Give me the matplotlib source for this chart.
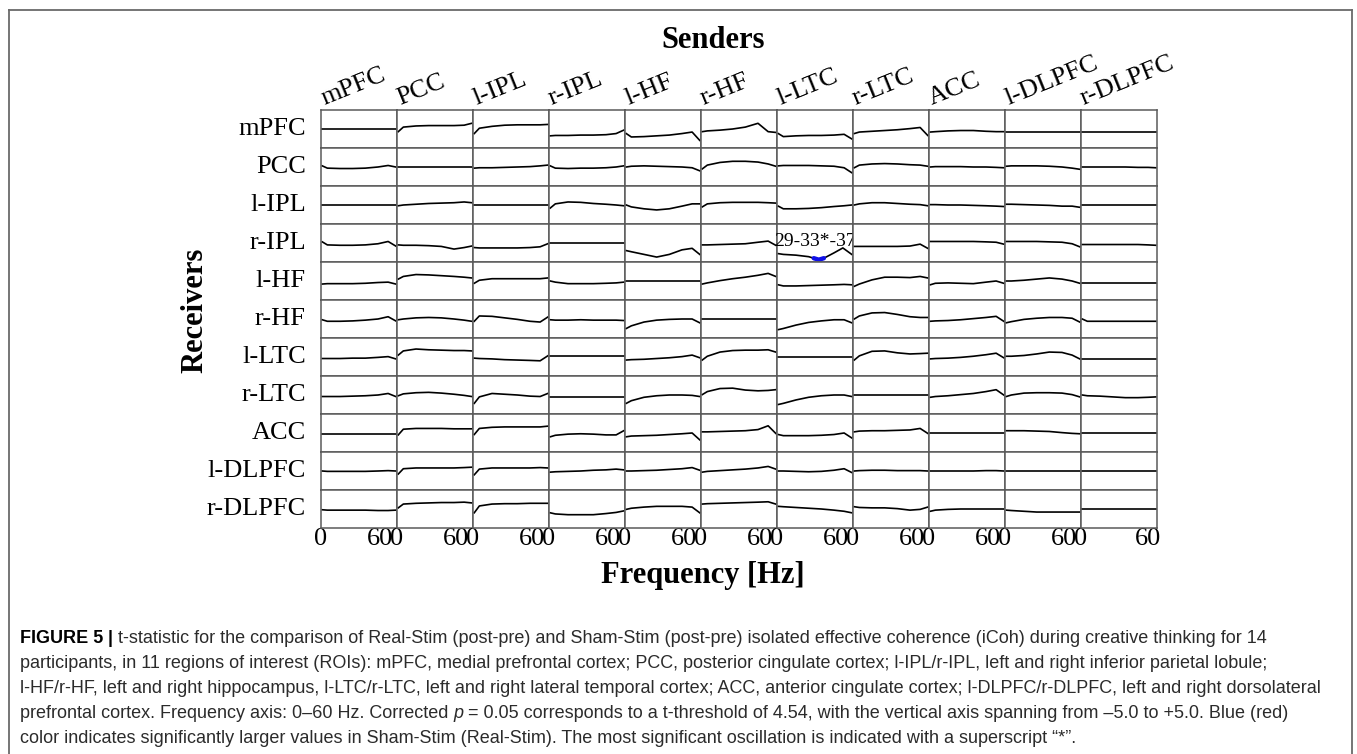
import matplotlib
matplotlib.use("Agg")
import matplotlib.pyplot as plt
from matplotlib.lines import Line2D
from matplotlib.transforms import ScaledTranslation

# figure size in pixels (dpi 100)
W, H = 1357, 754

regions = ["mPFC", "PCC", "l-IPL", "r-IPL", "l-HF", "r-HF",
           "l-LTC", "r-LTC", "ACC", "l-DLPFC", "r-DLPFC"]
freqs = [1, 5, 15, 25, 35, 45, 53, 59]
flat = [0, 0, 0, 0, 0, 0, 0, 0]

# t-values: one list per receiver, one curve per sender
t_mpfc = [
    flat,
    [-0.7, 0.5, 0.8, 0.9, 0.9, 0.9, 1.0, 1.5],
    [-1.2, 0.2, 0.7, 1.0, 1.1, 1.1, 1.1, 1.2],
    [-1.8, -1.7, -1.7, -1.6, -1.6, -1.5, -1.2, -0.3],
    [-1.2, -2.1, -2.0, -1.8, -1.6, -1.2, -0.8, -3.0],
    [-0.7, -0.5, -0.3, 0.0, 0.5, 1.5, -0.7, -0.9],
    [-1.2, -2.0, -1.8, -1.7, -1.7, -1.6, -1.4, -2.6],
    [-1.2, -0.8, -0.6, -0.4, -0.2, 0.1, 0.4, -1.7],
    [-0.8, -0.7, -0.5, -0.4, -0.4, -0.6, -0.7, -0.7],
    [-0.8, -0.8, -0.8, -0.8, -0.8, -0.8, -0.8, -0.8],
    [-0.8, -0.8, -0.8, -0.8, -0.8, -0.8, -0.8, -0.8],
]
t_pcc = [
    [0.3, -0.3, -0.4, -0.4, -0.3, 0.0, 0.4, 0.0],
    flat,
    [-0.3, -0.2, -0.2, -0.1, 0.0, 0.1, 0.3, 0.5],
    [0.3, -0.3, -0.4, -0.3, -0.3, -0.2, 0.0, 0.3],
    [0.0, 0.2, 0.3, 0.2, 0.1, 0.0, -0.2, -1.0],
    [-0.5, 0.5, 1.2, 1.5, 1.5, 1.3, 0.8, 0.2],
    [0.3, 0.4, 0.4, 0.4, 0.3, 0.2, -0.2, -1.5],
    [-0.2, 0.5, 0.8, 0.9, 0.8, 0.6, 0.5, 0.2],
    [0.0, 0.1, 0.1, 0.1, 0.0, 0.0, -0.1, -0.2],
    [0.2, 0.3, 0.3, 0.3, 0.2, 0.0, -0.3, -0.6],
    [0.0, 0.0, 0.0, 0.0, 0.0, -0.1, -0.1, -0.2],
]
t_lipl = [
    flat,
    [-0.2, 0.0, 0.2, 0.4, 0.5, 0.6, 0.8, 0.6],
    flat,
    [-0.8, 0.3, 0.8, 0.7, 0.4, 0.2, 0.0, -0.2],
    [0.0, -0.5, -1.0, -1.3, -1.0, -0.3, 0.3, 0.3],
    [-0.5, 0.3, 0.6, 0.7, 0.7, 0.7, 0.6, 0.5],
    [-0.3, -1.0, -1.0, -0.9, -0.7, -0.4, -0.2, 0.0],
    [0.0, 0.3, 0.6, 0.6, 0.4, 0.2, 0.1, -0.2],
    [0.1, 0.1, 0.0, 0.0, -0.1, -0.2, -0.3, -0.4],
    [0.2, 0.2, 0.1, 0.0, -0.1, -0.3, -0.3, -0.6],
    flat,
]
t_ripl = [
    [0.3, -0.5, -0.6, -0.6, -0.5, -0.2, 0.4, -0.8],
    [-0.5, -0.6, -0.6, -0.7, -0.9, -1.6, -1.2, -0.8],
    [-1.2, -1.3, -1.3, -1.3, -1.3, -1.2, -1.0, -0.2],
    flat,
    [-2.0, -2.3, -3.0, -3.7, -3.0, -1.8, -1.4, -3.0],
    [-0.5, -0.5, -0.4, -0.3, -0.2, 0.2, 0.5, -0.6],
    None,  # significant cell, see sig_* below
    [-0.9, -0.9, -0.9, -0.9, -0.9, -0.8, -0.3, -1.4],
    [0.4, 0.4, 0.4, 0.4, 0.4, 0.3, 0.2, -0.3],
    [0.4, 0.4, 0.4, 0.4, 0.3, 0.2, -0.2, -1.0],
    [-0.4, -0.4, -0.4, -0.4, -0.4, -0.4, -0.5, -0.6],
]
t_lhf = [
    [-0.8, -0.7, -0.7, -0.7, -0.6, -0.4, -0.3, -0.8],
    [0.5, 1.2, 1.7, 1.6, 1.4, 1.2, 1.0, 0.8],
    [-0.6, 0.2, 0.6, 0.6, 0.6, 0.6, 0.6, 0.8],
    [0.0, -0.3, -0.7, -0.7, -0.7, -0.6, -0.5, -0.3],
    flat,
    [-0.8, -0.5, 0.1, 0.6, 1.0, 1.5, 2.0, 1.2],
    [-1.0, -1.3, -1.3, -1.2, -1.1, -1.0, -0.9, -1.0],
    [-1.4, -0.8, 0.3, 1.0, 1.0, 0.9, 1.2, 0.8],
    [-1.0, -0.6, -0.5, -0.6, -0.7, -0.3, 0.0, -0.6],
    [0.0, 0.0, 0.2, 0.5, 0.8, 0.5, 0.0, -0.6],
    [-0.5, -0.5, -0.5, -0.5, -0.5, -0.5, -0.5, -0.5],
]
t_rhf = [
    [-0.2, -0.6, -0.6, -0.5, -0.3, 0.0, 0.6, -0.5],
    [-0.2, 0.0, 0.3, 0.4, 0.3, 0.0, -0.3, -0.6],
    [-0.6, 0.8, 0.7, 0.3, -0.1, -0.6, -0.8, 0.5],
    [-0.2, -0.3, -0.3, -0.2, -0.3, -0.3, -0.3, -0.4],
    [-2.5, -1.8, -0.8, -0.3, -0.1, 0.0, 0.0, -1.0],
    flat,
    [-2.8, -2.5, -1.6, -0.9, -0.5, -0.2, -0.2, -1.0],
    [0.0, 0.8, 1.6, 1.7, 1.2, 0.6, 0.4, 0.4],
    [-0.6, -0.5, -0.4, -0.2, 0.1, 0.4, 0.7, -0.6],
    [-1.0, -0.7, -0.1, 0.2, 0.4, 0.4, 0.2, -0.8],
    [0.0, -0.6, -0.6, -0.6, -0.6, -0.6, -0.6, -0.6],
]
t_lltc = [
    [-0.4, -0.4, -0.4, -0.3, -0.3, -0.1, 0.1, -0.5],
    [0.5, 1.6, 2.1, 1.9, 1.8, 1.7, 1.7, 1.6],
    [-0.3, -0.4, -0.5, -0.7, -0.8, -0.9, -1.0, 0.3],
    [0.3, 0.3, 0.3, 0.3, 0.3, 0.3, 0.3, 0.3],
    [-0.8, -0.7, -0.6, -0.4, -0.2, 0.1, 0.5, -0.2],
    [-0.8, 0.2, 1.3, 1.7, 1.8, 1.8, 1.9, 1.3],
    flat,
    [-0.8, 0.3, 1.5, 1.6, 1.1, 0.8, 0.9, 1.0],
    [-0.5, -0.4, -0.3, -0.1, 0.2, 0.6, 1.0, -0.2],
    [0.2, 0.2, 0.4, 0.8, 1.3, 1.2, 0.5, -0.5],
    [-0.5, -0.5, -0.5, -0.5, -0.5, -0.5, -0.5, -0.5],
]
t_rltc = [
    [-0.4, -0.4, -0.4, -0.3, -0.2, 0.0, 0.4, -0.4],
    [-0.2, 0.3, 0.6, 0.7, 0.5, 0.2, -0.1, -0.4],
    [-2.2, -0.5, 0.4, 0.2, 0.0, -0.3, -0.4, 0.4],
    [-0.6, -0.6, -0.6, -0.6, -0.6, -0.6, -0.6, -0.6],
    [-2.2, -1.5, -0.6, -0.2, 0.0, 0.0, -0.1, -0.4],
    [0.1, 0.9, 1.7, 1.8, 1.3, 1.1, 1.2, 1.4],
    [-2.5, -2.2, -1.3, -0.6, -0.2, 0.0, 0.0, -0.4],
    flat,
    [-0.6, -0.4, -0.2, 0.1, 0.4, 0.9, 1.4, 0.0],
    [-0.4, 0.0, 0.5, 0.6, 0.6, 0.5, 0.1, -0.5],
    [0.0, -0.2, -0.3, -0.5, -0.7, -0.7, -0.6, -0.5],
]
t_acc = [
    [-0.3, -0.3, -0.3, -0.3, -0.3, -0.3, -0.3, -0.3],
    [-0.5, 1.0, 1.2, 1.2, 1.2, 1.1, 1.1, 1.1],
    [-0.4, 1.2, 1.5, 1.6, 1.6, 1.6, 1.6, 1.8],
    [-1.0, -0.6, -0.3, -0.2, -0.3, -0.5, -0.5, 0.6],
    [-1.0, -0.8, -0.7, -0.6, -0.4, -0.2, 0.0, -1.8],
    [0.3, 0.3, 0.4, 0.5, 0.6, 0.9, 1.9, -0.1],
    [-0.4, -0.7, -0.7, -0.7, -0.6, -0.4, 0.0, -1.3],
    [0.3, 0.5, 0.6, 0.6, 0.7, 0.8, 1.2, -0.1],
    flat,
    [0.6, 0.6, 0.6, 0.5, 0.4, 0.1, -0.1, -0.2],
    [-0.1, -0.1, -0.1, -0.1, -0.1, -0.1, -0.1, -0.1],
]
t_ldlpfc = [
    [0.0, -0.1, -0.1, -0.1, -0.1, 0.0, 0.1, 0.0],
    [-0.8, 0.6, 0.8, 0.8, 0.8, 0.8, 0.9, 1.0],
    [-1.0, 0.5, 0.8, 0.8, 0.8, 0.8, 0.9, 0.8],
    [-0.3, -0.2, -0.1, 0.0, 0.2, 0.3, 0.5, 0.3],
    [0.0, 0.0, 0.1, 0.2, 0.4, 0.6, 0.9, 0.2],
    [-0.3, -0.1, 0.1, 0.3, 0.5, 0.8, 1.2, 0.5],
    [0.0, 0.0, -0.1, -0.2, -0.1, 0.2, 0.6, -0.4],
    [0.0, 0.1, 0.2, 0.2, 0.1, 0.1, 0.1, 0.0],
    [0.0, 0.0, 0.0, 0.0, 0.0, 0.1, 0.1, 0.0],
    flat,
    flat,
]
t_rdlpfc = [
    [-0.2, -0.3, -0.3, -0.3, -0.3, -0.4, -0.4, -0.3],
    [0.3, 1.3, 1.5, 1.6, 1.7, 1.7, 1.8, 1.6],
    [-1.0, 0.8, 1.3, 1.4, 1.4, 1.5, 1.5, 1.5],
    [-1.0, -1.3, -1.5, -1.5, -1.5, -1.2, -0.9, -0.5],
    [-0.1, 0.2, 0.5, 0.7, 0.7, 0.7, 0.5, -1.0],
    [1.3, 1.4, 1.5, 1.6, 1.7, 1.8, 1.9, 1.3],
    [0.7, 0.6, 0.4, 0.2, 0.0, -0.3, -0.6, -1.0],
    [0.6, 0.4, 0.3, 0.3, 0.1, -0.3, -0.1, 0.5],
    [-0.6, -0.3, -0.1, 0.0, 0.0, 0.0, 0.0, 0.0],
    [-0.3, -0.4, -0.6, -0.8, -0.8, -0.8, -0.8, -0.8],
    flat,
]

# the single significant connection (l-LTC -> r-IPL)
sig_freqs = [1, 5, 15, 25, 29, 33, 37, 45, 52, 59]
sig_t = [-2.8, -3.0, -3.2, -3.6, -4.0, -4.4, -4.0, -2.6, -1.3, -3.0]
sig_band = [29, 37]
sig_label = "29-33*-37"

rows = [t_mpfc, t_pcc, t_lipl, t_ripl, t_lhf, t_rhf,
        t_lltc, t_rltc, t_acc, t_ldlpfc, t_rdlpfc]

# fonts
serif = "Liberation Serif"
cap_font, cap_size = "Liberation Sans", 13
cap_color = "#2b2b2b"

# grid geometry in pixels
gx0, gy0 = 321, 110
cw, ch = 76, 38
grid_col = "#5a5a5a"


def fx(x):
    return x / W


def fy(y):
    return 1 - y / H


fig = plt.figure(figsize=(W / 100, H / 100), dpi=100)

for r, row in enumerate(rows):
    for c, vals in enumerate(row):
        left = gx0 + c * cw
        top = gy0 + r * ch
        ax = fig.add_axes([fx(left), fy(top + ch), cw / W, ch / H])
        ax.set_xlim(0, 60)
        ax.set_ylim(-5, 5)
        if vals is None:
            ax.plot(sig_freqs, sig_t, color="black", lw=1.2)
            bf = [f for f in sig_freqs if sig_band[0] <= f <= sig_band[1]]
            bt = [t for f, t in zip(sig_freqs, sig_t) if sig_band[0] <= f <= sig_band[1]]
            ax.plot(bf, bt, color="#1010e8", lw=3.2, solid_capstyle="round")
            ax.text(30, 0.5, sig_label, ha="center", va="center",
                    fontsize=14, family=serif, color="black")
        else:
            ax.plot(freqs, vals, color="black", lw=1.2)
        for s in ax.spines.values():
            s.set_color(grid_col)
            s.set_linewidth(1.1)
        ax.set_yticks([])
        if r == len(rows) - 1:
            ax.set_xticks([0, 60])
            ax.set_xticklabels(["0", "60"], fontsize=19, family=serif)
            ax.tick_params(axis="x", length=0, pad=0)
            lab60 = ax.xaxis.get_major_ticks()[1].label1
            shift = -9 if c == len(row) - 1 else -17
            lab60.set_transform(lab60.get_transform() +
                                ScaledTranslation(shift / 100, 0, fig.dpi_scale_trans))
        else:
            ax.set_xticks([])

# sender names (columns) and receiver names (rows)
for c, name in enumerate(regions):
    fig.text(fx(gx0 + c * cw + 3), fy(105), name, rotation=22,
             rotation_mode="anchor", ha="left", va="baseline",
             fontsize=19, family=serif)
for r, name in enumerate(regions):
    fig.text(fx(306), fy(gy0 + r * ch + ch / 2), name, ha="right",
             va="center", fontsize=19, family=serif)

fig.text(fx(713), fy(40), "Senders", ha="center", va="center",
         fontsize=22, weight="bold", family=serif)
fig.text(fx(195), fy(310), "Receivers", ha="center", va="center",
         rotation=90, fontsize=22, weight="bold", family=serif)
fig.text(fx(703), fy(575), "Frequency [Hz]", ha="center", va="center",
         fontsize=22, weight="bold", family=serif)

# outer frame (open at the bottom)
for xs, ys in [((9, 9), (10, H)), ((9, 1352), (10, 10)), ((1352, 1352), (10, H))]:
    fig.add_artist(Line2D([fx(xs[0]), fx(xs[1])], [fy(ys[0]), fy(ys[1])],
                          color="#6a6a6a", lw=1.3, transform=fig.transFigure))

# caption, written piece by piece so bold / italic parts follow each other
caption = [
    [("FIGURE 5", "bold"), (" | ", "bold"),
     ("t-statistic for the comparison of Real-Stim (post-pre) and Sham-Stim (post-pre) "
      "isolated effective coherence (iCoh) during creative thinking for 14", "normal")],
    [("participants, in 11 regions of interest (ROIs): mPFC, medial prefrontal cortex; PCC, "
      "posterior cingulate cortex; l-IPL/r-IPL, left and right inferior parietal lobule;", "normal")],
    [("l-HF/r-HF, left and right hippocampus, l-LTC/r-LTC, left and right lateral temporal "
      "cortex; ACC, anterior cingulate cortex; l-DLPFC/r-DLPFC, left and right dorsolateral", "normal")],
    [("prefrontal cortex. Frequency axis: 0\u201360 Hz. Corrected ", "normal"), ("p", "italic"),
     (" = 0.05 corresponds to a t-threshold of 4.54, with the vertical axis spanning from "
      "\u20135.0 to +5.0. Blue (red)", "normal")],
    [("color indicates significantly larger values in Sham-Stim (Real-Stim). The most "
      "significant oscillation is indicated with a superscript \u201c*\u201d.", "normal")],
]
cap_ax = fig.add_axes([0, 0, 1, 1])
cap_ax.set_axis_off()
line_y0, line_dy = 647, 25
for i, parts in enumerate(caption):
    prev = None
    for s, kind in parts:
        kw = dict(fontsize=cap_size, family=cap_font, color=cap_color,
                  va="bottom", ha="left")
        if kind == "bold":
            kw["weight"] = "bold"
            kw["color"] = "black"
        if kind == "italic":
            kw["style"] = "italic"
        if prev is None:
            prev = cap_ax.text(fx(20), fy(line_y0 + i * line_dy), s,
                               transform=cap_ax.transAxes, **kw)
        else:
            prev = cap_ax.annotate(s, xy=(1, 0), xycoords=prev, **kw)

plt.savefig("out.png", dpi=100)
